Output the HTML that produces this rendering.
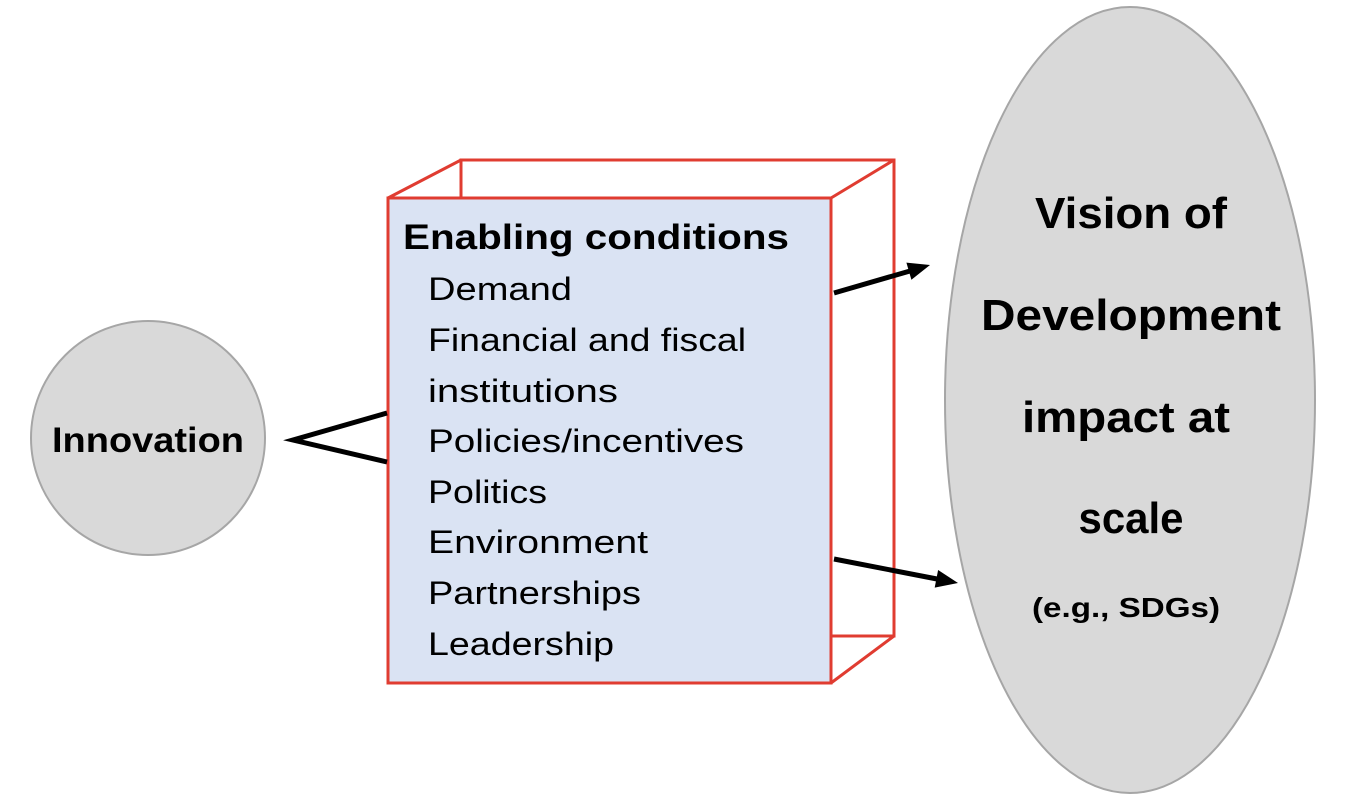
<!DOCTYPE html>
<html><head><meta charset="utf-8"><style>
html,body{margin:0;padding:0;background:#fff;}
svg{display:block;}
text{font-family:"Liberation Sans",sans-serif;fill:#000;}
</style></head><body>
<svg width="1353" height="799" viewBox="0 0 1353 799" xmlns="http://www.w3.org/2000/svg">
<!-- Innovation circle -->
<circle cx="148" cy="438" r="117" fill="#d9d9d9" stroke="#a6a6a6" stroke-width="2"/>
<text x="148" y="452" text-anchor="middle" font-size="35" font-weight="bold" textLength="192" lengthAdjust="spacingAndGlyphs">Innovation</text>
<!-- Vision ellipse -->
<ellipse cx="1130" cy="400" rx="185" ry="393" fill="#d9d9d9" stroke="#a6a6a6" stroke-width="2"/>
<text x="1131" y="228" text-anchor="middle" font-size="44" font-weight="bold" textLength="192" lengthAdjust="spacingAndGlyphs">Vision of</text>
<text x="1131" y="330" text-anchor="middle" font-size="44" font-weight="bold" textLength="300" lengthAdjust="spacingAndGlyphs">Development</text>
<text x="1126" y="432" text-anchor="middle" font-size="44" font-weight="bold" textLength="208" lengthAdjust="spacingAndGlyphs">impact at</text>
<text x="1131" y="533" text-anchor="middle" font-size="44" font-weight="bold" textLength="105" lengthAdjust="spacingAndGlyphs">scale</text>
<text x="1126" y="617" text-anchor="middle" font-size="28" font-weight="bold" textLength="188" lengthAdjust="spacingAndGlyphs">(e.g., SDGs)</text>
<!-- box back -->
<g fill="none" stroke="#e03c31" stroke-width="3">
<rect x="461" y="160" width="433" height="476"/>
<line x1="388" y1="198" x2="461" y2="160"/>
<line x1="831" y1="198" x2="894" y2="160"/>
<line x1="831" y1="683" x2="894" y2="636"/>
</g>
<rect x="388" y="198" width="443" height="485" fill="#dae3f3" stroke="#e03c31" stroke-width="3"/>
<text x="403" y="249" font-size="35" font-weight="bold" textLength="386" lengthAdjust="spacingAndGlyphs">Enabling conditions</text>
<g font-size="32">
<text x="428" y="300" textLength="144" lengthAdjust="spacingAndGlyphs">Demand</text>
<text x="428" y="351" textLength="318" lengthAdjust="spacingAndGlyphs">Financial and fiscal</text>
<text x="428" y="402" textLength="190" lengthAdjust="spacingAndGlyphs">institutions</text>
<text x="428" y="452" textLength="316" lengthAdjust="spacingAndGlyphs">Policies/incentives</text>
<text x="428" y="503" textLength="119" lengthAdjust="spacingAndGlyphs">Politics</text>
<text x="428" y="553" textLength="220" lengthAdjust="spacingAndGlyphs">Environment</text>
<text x="428" y="604" textLength="213" lengthAdjust="spacingAndGlyphs">Partnerships</text>
<text x="428" y="655" textLength="186" lengthAdjust="spacingAndGlyphs">Leadership</text>
</g>
<!-- connectors -->
<polyline points="387,413 293,440 387,462" fill="none" stroke="#000" stroke-width="5"/>
<line x1="834" y1="293" x2="910" y2="271" stroke="#000" stroke-width="5"/>
<polygon points="930,265 906.4,262.6 911.4,279.8" fill="#000"/>
<line x1="834" y1="559" x2="937" y2="579" stroke="#000" stroke-width="5"/>
<polygon points="958,583 938.1,570 934.7,587.6" fill="#000"/>
</svg>
</body></html>
